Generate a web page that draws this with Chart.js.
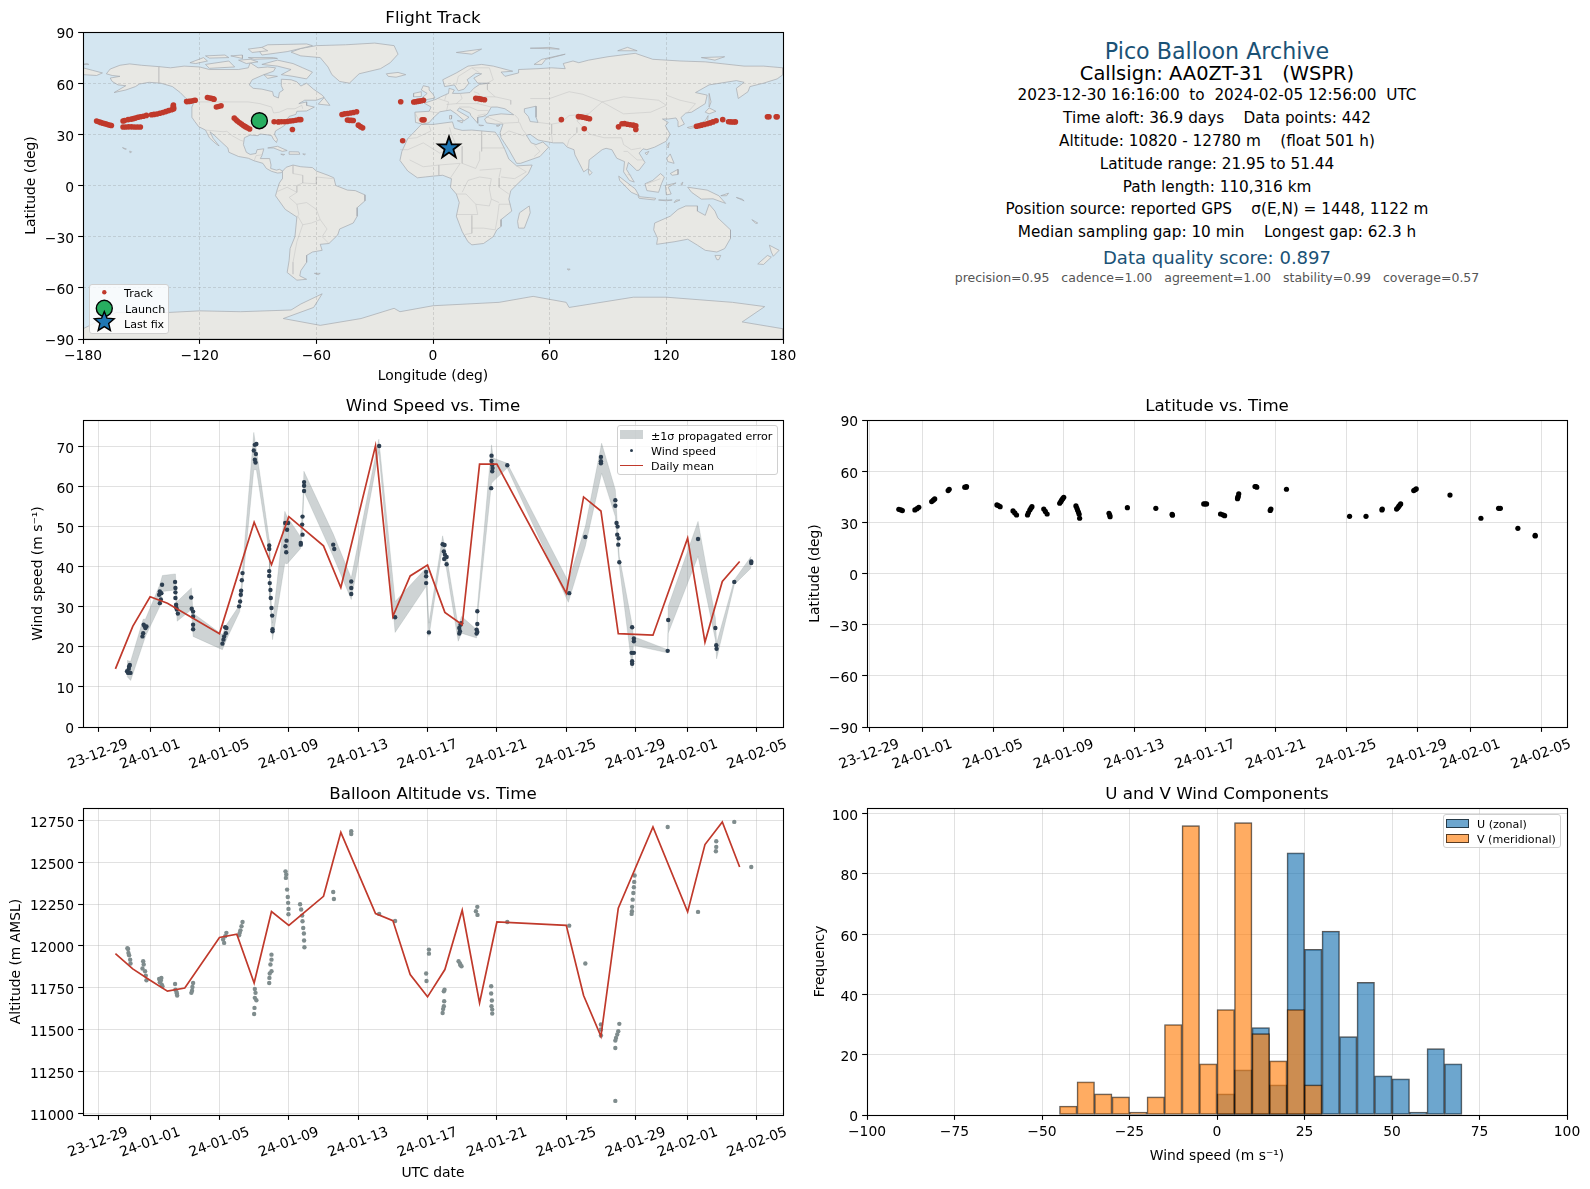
<!DOCTYPE html>
<html>
<head>
<meta charset="utf-8">
<title>Pico Balloon Archive</title>
<script src="https://cdn.jsdelivr.net/npm/chart.js@4"></script>
<style>
  html, body { margin: 0; padding: 0; background: #fff; }
  #page { position: relative; width: 1590px; height: 1189px; overflow: hidden; font-family: "DejaVu Sans", sans-serif; color: #000; }
  canvas { position: absolute; }
  .info { position: absolute; left: 867px; width: 700px; text-align: center; white-space: pre; transform: translateY(-50%); font-size: 15.28px; }
  .legend { position: absolute; background: rgba(255,255,255,0.8); border: 1px solid #d0d0d0; border-radius: 3px; box-sizing: border-box; }
  .lbl { position: absolute; font-size: 11.1px; color: #000; white-space: pre; transform: translateY(-50%); }
  .sw { position: absolute; box-sizing: border-box; }
</style>
</head>
<body>
<div id="page">
  <canvas id="mapChart" width="813" height="407" style="left:0;top:2px"></canvas>
  <canvas id="windChart" width="813" height="407" style="left:0;top:390px"></canvas>
  <canvas id="altChart" width="813" height="407" style="left:0;top:778px"></canvas>
  <canvas id="latChart" width="813" height="407" style="left:784px;top:390px"></canvas>
  <canvas id="histChart" width="813" height="407" style="left:784px;top:778px"></canvas>

  <div class="info" style="top:51px;font-size:22.2px;color:#1a5276">Pico Balloon Archive</div>
  <div class="info" style="top:73px;font-size:19.44px">Callsign: AA0ZT-31   (WSPR)</div>
  <div class="info" style="top:95px">2023-12-30 16:16:00  to  2024-02-05 12:56:00  UTC</div>
  <div class="info" style="top:118px">Time aloft: 36.9 days    Data points: 442</div>
  <div class="info" style="top:141px">Altitude: 10820 - 12780 m    (float 501 h)</div>
  <div class="info" style="top:164px">Latitude range: 21.95 to 51.44</div>
  <div class="info" style="top:187px">Path length: 110,316 km</div>
  <div class="info" style="top:209px">Position source: reported GPS    σ(E,N) = 1448, 1122 m</div>
  <div class="info" style="top:232px">Median sampling gap: 10 min    Longest gap: 62.3 h</div>
  <div class="info" style="top:257px;font-size:18.05px;color:#1a5276">Data quality score: 0.897</div>
  <div class="info" style="top:277px;font-size:12.5px;color:#555">precision=0.95   cadence=1.00   agreement=1.00   stability=0.99   coverage=0.57</div>

  <!-- map legend -->
  <div class="legend" style="left:89px;top:284px;width:80px;height:50px">
  </div>
  <svg style="position:absolute;left:89px;top:284px" width="40" height="50">
    <circle cx="15.3" cy="8.3" r="2.2" fill="#c0392b"/>
    <circle cx="15.3" cy="24.3" r="8" fill="#27ae60" stroke="#000" stroke-width="1.4"/>
    <polygon points="15.3,28.5 18,35.2 25.2,35.8 19.7,40.4 21.4,47.4 15.3,43.6 9.2,47.4 10.9,40.4 5.4,35.8 12.6,35.2" fill="#1f77b4" stroke="#000" stroke-width="1.4" transform="translate(0,-1)"/>
  </svg>
  <div class="lbl" style="left:124px;top:292.5px">Track</div>
  <div class="lbl" style="left:125px;top:308.5px">Launch</div>
  <div class="lbl" style="left:124px;top:323.5px">Last fix</div>

  <!-- wind legend -->
  <div class="legend" style="left:617px;top:425px;width:161px;height:50px"></div>
  <div class="sw" style="left:620px;top:430px;width:23px;height:9px;background:rgba(127,140,141,0.38)"></div>
  <div class="sw" style="left:629.5px;top:448.5px;width:3.6px;height:3.6px;border-radius:50%;background:#2c3e50"></div>
  <div class="sw" style="left:620px;top:464.5px;width:23px;height:1.8px;background:#c0392b"></div>
  <div class="lbl" style="left:651px;top:435.5px">±1σ propagated error</div>
  <div class="lbl" style="left:651px;top:450.5px">Wind speed</div>
  <div class="lbl" style="left:651px;top:466px">Daily mean</div>

  <!-- histogram legend -->
  <div class="legend" style="left:1443px;top:814px;width:118px;height:34px"></div>
  <div class="sw" style="left:1446px;top:819px;width:23px;height:8.5px;background:rgba(31,119,180,0.65);border:1.1px solid rgba(0,0,0,0.65)"></div>
  <div class="sw" style="left:1446px;top:834px;width:23px;height:8.5px;background:rgba(255,127,14,0.65);border:1.1px solid rgba(0,0,0,0.65)"></div>
  <div class="lbl" style="left:1477px;top:824px">U (zonal)</div>
  <div class="lbl" style="left:1477px;top:839px">V (meridional)</div>
</div>

<script>
// ================== DATA ==================
const dateTickDays = [-3, 0, 4, 8, 12, 16, 20, 24, 28, 31, 35];   // days since 2024-01-01
const dateTickLabels = ["23-12-29","24-01-01","24-01-05","24-01-09","24-01-13","24-01-17","24-01-21","24-01-25","24-01-29","24-02-01","24-02-05"];

const mapLonTicks = [-180, -120, -60, 0, 60, 120, 180];
const latTicks = [-90, -60, -30, 0, 30, 60, 90];
const windTicks = [0, 10, 20, 30, 40, 50, 60, 70];
const altTicks = [11000, 11250, 11500, 11750, 12000, 12250, 12500, 12750];
const histXTicks = [-100, -75, -50, -25, 0, 25, 50, 75, 100];
const histYTicks = [0, 20, 40, 60, 80, 100];

// flight track
const trackLon = [-173,-172,-171,-170,-169,-168,-167,-166,-165.4,
  -159.4,-158.6,-156.8,-155.2,-154,-153,-151.8,-150.5,-149,-147.4,
  -159.4,-158,-156.5,-155,-153.5,-152,-150.5,
  -144.8,-143.5,-142,-140.5,-139,-137.5,-136,-134.5,-133.4,-133.4,-133.6,-133.5,
  -126.7,-125.5,-124.3,-123,-122.3, -116,-115,-114,-113,-112.6, -111.4,-110.3,-109,
  -102.2,-101.3,-100.5,-99.5,-98.5,-97.5,-96.5,-95.5,-94.3,
  -81.7,-79.5,-78,-76.5,-75,-73.5,-72,-70.5,-69,-68, -72.3,
  -46.8,-45.5,-44,-42.5,-41,-39.3, -44,-43,-42,-41, -38.4,-37.3,-36.2,
  -16.6, -9.9,-9,-8,-7,-6,-4.9, -5.6,-4.6, -15.6,
  22,23,24,25,26.5, 66, 74.8,76,77.2,78.5,79.5,80.5, 77.8,
  95.4,97.2,98.5,100,101.5,103,104.3,104.3,
  135.5,136.8,138,139.5,141,142.5,144,145.6, 149, 152,153.2,154.5,155.5, 172,172.8,176.5,177];
const trackLat = [37.8,37.4,37,36.6,36.3,36,35.6,35.3,35.2,
  37.8,38.1,38.6,38.9,39.2,39.6,40,40.3,40.6,41.1,
  34.3,34.3,34.4,34.4,34.3,34.3,34.3,
  41.5,41.7,41.9,42.4,42.8,43.3,43.9,44.4,44.8,45.6,46.4,47.2,
  49.2,49.3,49.5,49.8,50, 51.6,51.3,51.1,50.8,50.6, 46,46.3,46.8,
  39.5,38.5,37.7,36.8,36,35.2,34.5,33.9,33.1,
  37.4,37.3,37.4,37.4,37.5,37.8,38,38.3,38.6,38.6, 32.8,
  41.6,42,42.2,42.5,42.8,43.2, 38.4,38.2,38.2,38.1, 35.4,34.5,33.8,
  49.1, 49,49.1,49.3,49.5,49.7,50, 38.5,38.5, 26.2,
  51.1,51,50.8,50.5,50.3, 38.6, 40.4,40.3,40,39.7,39.4,39.1, 33.3,
  34.4,36.2,36.3,35.9,35.6,35.4,35,32.9,
  34.7,35,35.4,35.8,36.2,36.7,37.3,38, 38.6, 37.4,37.3,37.2,37.3, 40.3,40.3,40.3,40.3];
const launchPoint = [-89.3, 38];
const lastFixPoint = [8.2, 22];

// coastlines, rough outlines [lon, lat]
const landPolys = [
  // North America
  [[-168,65.5],[-166,68.3],[-161,70.5],[-156,71.3],[-150,70.5],[-141,69.7],[-135,69],[-128,70],[-120,69.5],[-115,68],[-108,68],[-100,68],[-95,69],[-94,72],[-90,69],[-85,69.5],[-81,69],[-82,67],[-87,65],[-93,62],[-94.5,59],[-92.5,57],[-88,56.5],[-82.5,55],[-82,52.5],[-79.5,51.3],[-79,54.5],[-77,56],[-78,58.5],[-78,62.3],[-73,62],[-70,60.8],[-68,58.3],[-65,60],[-61.5,56.5],[-57,53],[-56,51.7],[-60,50],[-66,50],[-69,48],[-65,49],[-65,47],[-61,46],[-65,43.7],[-70,43.5],[-70.5,41.7],[-74,40.5],[-75.5,38],[-76,35.5],[-78,34],[-81,32],[-81.5,30],[-80,27],[-80.5,25.2],[-82,27],[-83,29.2],[-85,29.7],[-89,30.2],[-90,29.2],[-94,29.6],[-97,28],[-97.5,24],[-96,19.5],[-94,18.2],[-91,18.8],[-90.5,21],[-87,21.5],[-88,17.5],[-88.8,15.8],[-84,15.8],[-83.3,12],[-83.5,10],[-80.5,9],[-79,9.5],[-77.3,8.5],[-78,7.5],[-80,7.3],[-83,8.3],[-85.7,10],[-87.5,13],[-92,14.5],[-95,16],[-100,17],[-105,19.5],[-105.5,22],[-109,25.7],[-112.5,29.5],[-114.7,31.5],[-113,27.5],[-110,23.2],[-112,24.8],[-115,28],[-117,32.5],[-120.5,34.5],[-122.5,37.5],[-124,40],[-124,46],[-123,48.5],[-127,51],[-130,54.5],[-134,58],[-140,60],[-146,60.5],[-151,59.5],[-153,58],[-158,56],[-164,54.5],[-158,58.5],[-162,59],[-165,61],[-166,63],[-161,64],[-165,64.5]],
  // Greenland
  [[-73,78.2],[-68,80.3],[-60,82],[-45,82.5],[-30,83.5],[-20,82],[-18,77],[-22,72],[-27,68.5],[-38,65.5],[-43,60],[-48,61],[-52,65],[-54,69.5],[-58,75],[-68,76]],
  // Arctic Canada
  [[-80,73.5],[-72,71.5],[-67,69],[-62,66.5],[-65,62.5],[-72,64],[-78,65],[-73,68],[-80,70],[-88,71]],
  [[-117,71],[-105,73],[-102,69.5],[-115,68.7]],
  [[-90,80],[-85,82.5],[-65,83],[-62,82],[-75,78.5],[-88,76.5]],
  [[-125,72],[-118,75],[-116,73],[-122,71.5]],
  [[-95,75],[-82,75],[-80,74.5],[-92,74]],
  [[-117,76],[-107,76.5],[-105,75],[-115,74.7]],
  [[-100,73.5],[-94,74],[-90,72.5],[-96,71.5]],
  [[-87,65],[-80,64],[-85,62.8]],
  [[-95,80],[-88,81],[-85,79],[-93,78]],
  [[-104,76],[-98,76.5],[-98,74.5]],
  [[-128,50.5],[-125,50],[-123.5,48.5]],
  [[-59,47.7],[-56,51.5],[-53,47]],
  // Iceland, Caribbean, Hawaii, Atlantic
  [[-24,65.5],[-18,66.3],[-14,65],[-19,63.5],[-23,64]],
  [[-85,22],[-80,23],[-75,20.5],[-77.5,20],[-82,22]],
  [[-74,19.8],[-69,19.7],[-68.5,18.3],[-74,18.3]],
  [[-67,18.5],[-65.6,18.4],[-66,18]],
  [[-78.3,18.4],[-76.3,18.2],[-77,17.8]],
  [[-156,20.2],[-155,19.8],[-155.7,19]],
  [[-159.7,22.2],[-157.7,21.4],[-158.3,21.2]],
  [[-61,-51.5],[-58,-51.5],[-59,-52.3]],
  // South America
  [[-77.3,8.5],[-75.5,10.7],[-72,12],[-68,11],[-62,10.5],[-60,8.5],[-54,6],[-51,4.5],[-50,0],[-44,-2.7],[-40,-3],[-35,-5.5],[-35,-9],[-39,-13],[-39,-18],[-41,-22],[-48,-25.5],[-49,-29],[-53.5,-34],[-58,-34.5],[-57,-38],[-62,-39],[-65,-41],[-65,-45],[-68,-50],[-68.5,-53],[-65,-55],[-70,-55.5],[-75,-51],[-74,-44],[-73.5,-37],[-71,-30],[-70,-18.5],[-76,-14],[-81,-6],[-80,-2],[-79,1.5],[-77.5,4],[-77.5,7]],
  // Africa
  [[-6,35.8],[0,35.8],[10,37.3],[11,33.5],[15,32.3],[20,32.5],[25,32],[32,31.3],[34,28],[37,21],[39,15.5],[43,11.5],[51,12],[49,7],[44,1.5],[40,-3],[39,-8],[40.5,-15],[35,-20],[35,-24],[32.8,-26],[31,-30],[26,-34],[20,-34.8],[18,-33],[15,-27],[12,-18],[13.5,-10],[12,-5],[9,-1],[9.5,4],[5,6],[0,5.5],[-4,5],[-8,4.5],[-13,8.5],[-17,14.7],[-16,20],[-13,27.5],[-10,31]],
  // Eurasia
  [[-9,37],[-9.3,43],[-2,43.5],[-1,46],[-4.5,48.3],[1.5,50.5],[4,52],[8,54],[8.3,57],[11,56],[10,54],[14,54],[19,54.5],[21,57],[24,59.3],[29,60],[23,60],[21,63],[25,65.5],[22,65.8],[17.5,62],[18.5,60],[16,56.5],[13,55.5],[11,59],[6,58],[5,62],[12,66],[18,70],[25,71],[31,70],[41,67],[35,66.5],[37,64],[44,66],[44,68],[54,68.5],[61,69],[68,68.5],[67,71.5],[72,73],[75,72],[80,73.5],[90,75.5],[104,77.5],[113,74],[127,73],[140,72.5],[160,70],[170,70],[180,69],[180,65],[177,62.5],[170,60],[163,58],[162,55],[157,51],[156,57],[160,60.5],[156,61.5],[142,59],[135,54.5],[141,53],[140,48],[133,43],[130,42.5],[127.5,39.8],[129.3,36],[126.5,34.5],[126,37.5],[125,39.6],[121,39],[118,39],[121,37],[119.5,35],[122,30],[120,26],[114,22.5],[110,21],[108,21.5],[106,19],[109,13.5],[106,9],[104.8,8.8],[100.5,13.5],[99.5,9.5],[103.5,2],[101,3],[98,8],[98.5,14],[94.5,16],[92,21],[89,21.8],[87,21],[80.3,15],[80,10],[77.5,8],[73,18],[72.5,21],[69,22.5],[67,25],[62,25],[57,26],[54,26.7],[50,30],[48,29.5],[50.5,25],[53,24],[56.5,25.5],[59.5,22.5],[55,17],[45,13],[43,13],[39,21],[35,28],[34.5,31],[36,36],[32,36],[27.5,36.7],[26.5,39],[29,41],[35,42],[41.5,41.5],[37,45],[33,46],[30,46],[28,42],[26,40.5],[23,40],[23,36.5],[19.5,41],[19,42.5],[13.5,45.5],[12.5,44],[18.5,40],[16,38],[12,42],[9,44.3],[3.5,43.2],[0,39.5],[-2,36.8],[-5.5,36]],
  // Chukotka across the date line
  [[-180,69],[-175,67.5],[-170,66],[-173,64.5],[-180,65]],
  [[-180,71],[-178,71.5],[-177,71]],
  // European and Asian islands
  [[-5,50],[1,51.3],[0,53.5],[-2,56],[-2,57.7],[-5,58.5],[-6,56],[-3,54],[-5,52]],
  [[-10,52],[-6,52.2],[-6,55],[-10,54]],
  [[12,78],[25,80],[20,77]],
  [[52,71],[56,74],[68,77],[58,74],[56,71]],
  [[50,80.5],[60,81],[65,80]],
  [[95,79],[105,79],[100,81]],
  [[138,75],[150,75.5],[145,73.5]],
  [[12.5,38],[15.5,38],[15,36.7]],
  [[8.5,41],[9.7,41],[9.5,39],[8.5,39]],
  [[32.5,35],[34.5,35.5],[33.5,34.6]],
  [[23.5,35.5],[26,35.2],[24.5,35]],
  [[49.5,-12],[50,-16],[47,-25],[44,-25],[43.5,-21],[44.5,-16]],
  [[69,-49],[70.5,-49],[70,-49.7]],
  [[80,9.7],[81.8,7.5],[80.5,6],[79.8,8]],
  [[130.8,34],[136,35.5],[140,38],[141.5,41],[141,36],[137,34.5],[132,33.5]],
  [[140,43],[142,45.5],[145.5,43.5],[142,42]],
  [[142,54],[143,49],[142,46],[142,50]],
  [[120.2,23],[121.5,25.2],[121,22]],
  [[109,19],[111,20],[110,18]],
  [[120.3,16],[122,18.5],[124,13],[120.7,14]],
  [[122,7],[126,9.5],[126,6.5],[123,6]],
  [[95.5,5.5],[104,-2],[106,-6],[102,-4],[96,3]],
  [[105.5,-6.5],[114.5,-7.5],[114,-8.5],[106,-7.5]],
  [[116,-8.5],[123,-8.5],[120,-9]],
  [[124,-10],[127,-8.5],[125,-8.5]],
  [[109,1],[113,3],[117,7],[119,5],[117.5,1],[116,-4],[110,-3]],
  [[119.5,0],[125,1.5],[121,-1],[122.5,-5],[120,-5.5]],
  [[127.5,1],[128.5,2],[128,0]],
  [[131,-1],[141,-2.7],[147,-6],[150.5,-10.5],[144,-7.8],[138,-8],[133,-4]],
  [[148,-6],[152,-4.5],[151,-6]],
  [[156,-7],[160,-9],[159,-8]],
  [[164,-20],[167,-22],[166,-22.3]],
  // Australia and New Zealand
  [[114,-22],[122,-18],[126,-14],[130,-12],[136,-12],[136,-15],[140,-17.5],[142,-11],[145,-15],[146.5,-19],[153,-26],[153,-31],[150,-37],[146,-39],[140,-38],[136,-35],[131,-31.5],[124,-33],[115,-34.5],[115.5,-31],[113.5,-26]],
  [[145,-41],[148,-41],[147,-43.5],[146,-43.5]],
  [[173,-35],[178,-38],[175,-41.5],[174,-39]],
  [[172,-41],[174,-42],[170,-46.3],[167,-46]],
  // Antarctica
  [[-180,-90],[-180,-84],[-163,-74.5],[-137,-74.5],[-120,-73.5],[-99,-74],[-73,-73],[-68,-69.5],[-57,-63.5],[-61.4,-71.5],[-77,-78],[-58,-82],[-37,-78],[-20,-72],[-17,-74],[0,-70.5],[34,-68.5],[51.5,-65],[68.5,-68.5],[70,-71.5],[103,-65.5],[120,-65.5],[154,-68.5],[170.6,-71],[159,-80],[180,-84],[180,-90]]
];
// inland water, rough outlines
const waterPolys = [
  [[47,45],[53,46.5],[53,40],[54,37],[50,37.5],[49,40.5],[47,43]]
];
// country borders, rough polylines
const borderLines = [
  [[-123,49],[-95,49],[-89,48],[-83,46],[-82,42.5],[-79,43],[-75,45],[-71,45],[-67.5,47],[-67,45]],
  [[-141,69.7],[-141,60]],
  [[-117,32.5],[-108,31.5],[-106,31.8],[-103,29],[-99,26.5],[-97.5,26]],
  [[-92,14.5],[-91,17.5],[-89,17.8],[-88,18]],
  [[-72,12],[-72,7],[-67,6],[-67,1.5]],
  [[-51.5,4],[-60,5],[-60,1],[-67,1.5],[-70,0],[-70,-4],[-74,-7],[-70,-11],[-65,-10],[-60,-14],[-58,-20],[-54.5,-25.5],[-57,-30],[-53.5,-34]],
  [[-69.5,-18],[-67,-23],[-70,-33],[-72,-45],[-72,-52]],
  [[-70,-11],[-69,-17],[-70,-18.5]],
  [[-67,-23],[-62.5,-22],[-58,-20]],
  [[-80,-3.5],[-75,-1],[-70,-4]],
  [[-2,35],[-1,32],[-8.5,28],[-13,27.5]],
  [[8.5,34],[9.5,30],[12,23.5]],
  [[-5,25],[3.5,19],[12,23.5]],
  [[25,32],[25,20]],
  [[25,22],[37,22]],
  [[15,23],[15,13],[22,10],[24,15],[24,20]],
  [[-17,21],[-13,21],[-5,25]],
  [[-12,15],[-5,11],[3,12],[14,13]],
  [[3,12],[3,6]],
  [[14,13],[9,4.5]],
  [[24,9],[35,10],[34,5]],
  [[43,11.5],[48,8],[42,4],[35,5]],
  [[12,-5],[17,-5],[22,-11],[29,-12],[30,-8],[29,-2],[30,4],[24,5],[18,3],[15,-4]],
  [[34,4.5],[34,-1],[39,-5]],
  [[12,-17],[23,-17],[22,-11]],
  [[20,-17.5],[20,-28],[16.5,-28.7]],
  [[20,-25],[26,-25],[32,-26]],
  [[40,-11],[34,-11],[33,-20],[32,-26]],
  [[30,-8],[34,-10]],
  [[28,60],[28,56],[32,52],[40,50],[40,47.5]],
  [[50,51],[60,51],[70,55],[77,53.5],[87,49],[80,42],[70,41],[66,37],[61,36]],
  [[87,49],[98,42],[112,43],[120,47],[116,50],[98,52],[87,49]],
  [[120,53],[127,50],[135,48],[131,43]],
  [[80,42],[74,38],[78,33],[81,30],[88,28],[97,28],[98,24],[102,21],[107,22]],
  [[74,34],[74,31],[70,27],[69,23]],
  [[54,37],[61,36],[61,30],[61.5,25]],
  [[44.5,37],[46,33],[48,30]],
  [[35,29],[39,32],[47,29]],
  [[52,24],[55,20],[52,17]],
  [[26,41],[36,36.5],[44,37],[44,39],[42,41.5]],
  [[-1.8,43.4],[3,42.5]],
  [[-9,42],[-7,37.5]],
  [[2.5,51],[8,49],[7,44]],
  [[7,54],[6,50]],
  [[14,54],[15,51],[12,48],[17,48],[23,48],[24,52],[23.5,54],[21,55]],
  [[12,48],[7,47.5]],
  [[13.5,46],[19,46],[23,44],[28.5,44]],
  [[23,41],[27,42]],
  [[24,52],[32,52]],
  [[23,48],[30,46]],
  [[98,20],[100,20],[105,15],[108,15]],
  [[100,6.5],[102,6]],
  [[12,59],[13,64],[20,69],[29,69],[31,62],[28,60]],
  [[20,69],[24,66]],
  [[110,1],[117,4]]
];

// wind speed vs time
const windDays = [-1.33,-1.21,-1.13,-1.23,-1.27,-1.17, -0.44,-0.40,-0.31,-0.21,-0.37,-0.27,
  0.56,0.62,0.52,0.65,0.56,0.69, 1.44,1.46,1.46,1.46,1.5,1.54,1.6,1.5,
  2.37,2.4,2.48,2.48,2.48,2.48, 4.17,4.23,4.27,4.37,4.33,4.4, 5.13,5.19,5.23,5.25,5.29,5.33,
  6.04,6.13,5.98,6.1,6.04,6.08, 6.87,6.87,6.87,6.87,6.9,6.94,6.96,7,7.04,7.06,7.06,
  7.79,7.96,7.9,7.87,7.81,7.85, 8.69,8.79,8.77,8.79,8.69, 8.88,8.88,8.88,
  10.56,10.62, 11.6,11.6,11.6, 13.21, 14.13, 15.92,15.92,15.92, 16.08,
  16.87,16.98,16.94,17,16.96,17.1,17.1, 17.83,17.87,17.83,17.9,17.94,
  18.83,18.87,18.87,18.83,18.87, 19.69,19.69,19.73,19.73,19.67,19.75,
  20.6, 24.17, 25.1, 26,26,26, 26.83,26.83,26.9,26.96,26.94,27.02,27,27.06,
  27.8,27.9,27.9,27.77,27.9,27.8,27.8, 29.85,29.88, 31.6, 32.6,32.65,32.67, 33.69, 34.67,34.67];
const windSpeed = [13.9,15.1,13.5,14.5,13.5,15.5, 22.6,23.4,25.1,25.1,25.5,24.7,
  30.9,31.8,33,33.4,33.8,35.5, 36.2,34.7,33.6,32.2,30.5,29.3,28.3,29.9,
  32.3,29.5,28.8,27.6,25.5,24.4, 20.8,21.8,22.6,23.4,24.9,24.7, 30.1,31.3,33,34,36.6,38.4,
  70.4,70.6,69,68.1,66.7,66, 45.3,44.4,38.9,37.7,35.9,34.2,32.2,29.7,27.8,23.9,24.4,
  50.9,50.9,49.2,46.5,45.1,43.6, 45.9,52.5,50.5,48,45.5, 61.1,60.2,58.9,
  45.5,44.4, 36.3,34.7,33.2, 70.1, 27.4, 38.7,37.6,35.9, 23.6,
  45.6,45.4,43.8,43,41.9,42.4,40.6, 24.7,23.9,23.3,25.5,25.9,
  24.3,25.7,28.9,23.3,23.7, 67.7,66.4,65.4,63.8,59.6,64.6,
  65.3, 33.4, 47.4, 67.4,66.3,65.8, 56.6,55.2,50.9,50,48,47.1,45.5,41.1,
  24.9,22.1,21.4,18.5,18.5,16.4,15.8, 19,26.7, 46.9, 24.7,20.4,19.5, 36.2, 41.3,40.9];

const bandDays = [-1.33,-1.12,-0.4,-0.27,0.56,0.71,1.46,1.56,2.38,2.48,4.17,4.4,5.17,5.37,5.98,6.13,6.87,6.9,7.06,7.77,7.9,8.67,8.79,8.87,10.56,11.6,13.19,14.13,15.92,16.08,16.87,17.1,17.77,17.96,18.83,18.88,19.69,19.79,20.6,24.12,25.1,26.04,26.83,27.06,27.8,27.87,29.85,29.88,31.6,32.6,32.67,33.69,34.67];
const bandUpper = [16.6,16.4,26.9,26.9,35.5,37.8,38.2,31.3,34.7,28.4,23,25.5,30.5,41.7,73.5,69.2,46.7,37.6,25.9,53.8,52.5,47.5,54.2,63.8,48.2,37.2,71.8,31.3,39.7,25.9,47.7,42.6,25.1,27.6,24.3,30.1,70.4,67.1,65.8,36.3,50,70.8,59.2,42.6,25.5,22.6,19.3,30.1,51.3,27.2,20.9,36.7,42.6];
const bandLower = [12.6,11.6,20.9,22.6,30.1,33.8,34.2,26.4,29.3,22.6,19.3,21.8,28.8,37.2,64.2,64.2,43.4,32.6,21.8,40.9,40.7,44.5,49.2,58.8,42.6,31.8,68.7,23.6,35.1,22.6,45,39.2,21.4,23.4,22.2,27.6,60.8,61.3,64.6,31.1,45.1,63.3,52.5,40.1,14.7,20.4,18.5,23.4,42.6,21.8,17,35.5,39.7];

const meanWindDays = [-2,-1,0,1,4,6,7,8,10,11,13,14,15,16,17,18,19,20,24,25,26,27,29,31,32,33,34];
const meanWind = [14.5,25.1,32.5,30.9,23.3,51.1,40.5,52.5,45.2,34.8,70.2,27.6,37.7,40.4,28.6,25.5,65.6,65.6,33.4,57.4,53.9,23.3,22.9,47.1,21.2,36.3,41.3];

// altitude vs time
const altDays = [-1.27,-1.25,-1.21,-1.15,-1.13,-1.31, -0.4,-0.37,-0.44,-0.29,-0.25,-0.21,
  0.52,0.65,0.56,0.67,0.62,0.71, 1.44,1.46,1.52,1.56,1.54, 2.48,2.44,2.42,2.38,
  4.4,4.33,4.21,4.27, 5.33,5.27,5.21,5.13,5.17, 6.04,6.08,6.04,6.13,6.02,6,
  7,7,6.94,7,6.9,6.88,6.87, 7.81,7.85,7.83,7.9,7.94,7.96,7.98,7.98,
  8.65,8.71,8.77,8.79,8.83,8.87,8.88,8.9, 10.56,10.6, 11.6,11.6, 13.21, 14.13,
  15.92,15.94,16.08,16.08, 16.98,16.94,16.96,16.94,16.9,16.87, 17.79,17.87,17.96,17.9,
  18.87,18.79,18.88, 19.67,19.67,19.71,19.69,19.73,19.73, 20.6, 24.17, 25.1, 26,26,26,
  27.06,27,26.94,26.87,26.83,26.83,26.83, 27.94,27.92,27.9,27.87,27.83,27.8,27.79,27.77,
  29.85, 31.6, 32.65,32.65,32.63, 33.69, 34.67];
const altMeters = [11982,11958,11944,11918,11895,11986, 11909,11889,11865,11849,11823,11795,
  11803,11809,11783,11769,11793,11759, 11773,11739,11726,11704,11716, 11779,11755,11733,11720,
  12078,12058,12038,12018, 12143,12117,12093,12064,12078, 11743,11720,11690,11676,11630,11594,
  11948,11918,11889,11849,11835,11809,11779, 12445,12426,12406,12336,12292,12257,12221,12189,
  12249,12217,12181,12147,12107,12074,12032,11992, 12322,12280, 12684,12668, 12191, 12149,
  11835,11791,11978,11954, 11739,11729,11670,11640,11624,11600, 11909,11895,11879,11885,
  12233,12207,12185, 11759,11716,11674,11640,11620,11596, 12143, 12121, 11895, 11531,11501,11465,
  11535,11491,11471,11451,11435,11391,11075, 12420,12382,12350,12316,12276,12233,12207,12191,
  12710, 12203, 12625,12591,12565, 12740, 12471];

const meanAltDays = [-2,-1,0,1,2,4,5,6,7,8,10,11,13,14,15,16,17,18,19,20,24,25,26,27,29,31,32,33,34];
const meanAlt = [11954,11863,11795,11730,11749,12050,12070,11779,12205,12123,12296,12678,12193,12151,11829,11696,11859,12213,11660,12143,12123,11704,11461,12225,12710,12203,12605,12740,12471];

// latitude vs time
const latDays = [-1.33,-1.21,-1.13, -0.42,-0.3,-0.2, 0.53,0.62,0.7, 1.46,1.52, 2.4,2.48,2.5,
  4.22,4.3,4.4, 5.13,5.23,5.33, 5.95,6,6.08,6.14,6.2, 6.87,6.96,7.06, 7.77,7.83,7.88,7.94,8,
  8.69,8.74,8.78,8.83,8.87,8.9, 10.56,10.6,10.62, 11.6, 13.21, 14.13,14.15, 15.92,16,16.08,
  16.87,17,17.1, 17.83,17.85,17.87,17.9, 18.82,18.87,18.92,
  19.68,19.72, 20.6, 24.17, 25.1, 26,26.02, 26.83,26.9,26.95,27,27.06, 27.8,27.87,27.94, 29.85, 31.6, 32.6,32.7, 33.69, 34.67,34.67];
const latValues = [37.6,37.3,36.9, 37.3,38,38.8, 42.2,43,43.7, 48.6,49.4, 50.6,50.6,51,
  40.2,39.8,39.2, 36.7,35.5,34.3, 34.3,35.6,37.2,38.2,39.2, 37.8,36.4,34.9, 41.2,42.1,43,43.9,44.7,
  39.6,38.4,37.2,36,34.8,32.4, 35.3,34.3,33.3, 38.6, 38.2, 34.7,34.2, 40.8,40.8,40.8,
  34.9,34.4,33.9, 43.9,44.6,45.3,46.7, 51,51,50.6,
  37,37.8, 49.4, 33.5, 33.5, 37.3,37.8, 37.8,38.5,39.3,40,40.8, 48.6,49.1,49.6, 46, 32.4, 38.2,38.2, 26.5, 22,22.3];

// U and V histogram, 5 m/s bins
const histBins = [-42.5,-37.5,-32.5,-27.5,-22.5,-17.5,-12.5,-7.5,-2.5,2.5,7.5,12.5,17.5,22.5,27.5,32.5,37.5,42.5,47.5,52.5,57.5,62.5,67.5];
const uCounts = [0,0,0,0,0,0,0,0,0,7,15,29,10,87,55,61,26,44,13,12,1,22,17];
const vCounts = [3,11,7,6,1,6,30,96,17,35,97,27,18,35,10,0,0,0,0,0,0,0,0];

// ================== HELPERS ==================
const FONT = '"DejaVu Sans", sans-serif';
const GRID = "rgba(176,176,176,0.38)";
Chart.defaults.font.family = FONT;
Chart.defaults.color = "#000";
Chart.defaults.animation = false;

const toXY = (xs, ys) => xs.map((x, i) => ({ x, y: ys[i] }));
const minus = v => String(v).replace("-", "\u2212");

// frame and optional background for the plot area
const framePlugin = {
  id: "frame",
  beforeDraw(chart, args, opts) {
    if (!opts.background) return;
    const a = chart.chartArea, c = chart.ctx;
    c.save();
    c.fillStyle = opts.background;
    c.fillRect(a.left, a.top, a.width, a.height);
    c.restore();
  },
  afterDraw(chart) {
    const a = chart.chartArea, c = chart.ctx;
    c.save();
    c.strokeStyle = "#000";
    c.lineWidth = 1.1;
    c.strokeRect(a.left + 0.5, a.top + 0.5, a.width, a.height);
    c.restore();
  }
};
Chart.register(framePlugin);

function xAxis(min, max, ticks, height, title, rotated) {
  return {
    type: "linear", min, max,
    title: { display: !!title, text: title, font: { size: 13.89 }, padding: 0 },
    grid: { color: GRID, lineWidth: 1, tickColor: "#000", tickWidth: 1.1, tickLength: 4.86 },
    border: { display: false },
    ticks: {
      autoSkip: false, font: { size: 13.89 }, padding: rotated ? 15 : 4,
      minRotation: rotated ? 20 : 0, maxRotation: rotated ? 20 : 0,
      callback: rotated ? v => dateTickLabels[dateTickDays.indexOf(v)] : minus
    },
    afterBuildTicks(s) { s.ticks = ticks.map(value => ({ value })); },
    afterFit(s) {
      s.height = height;
      // matplotlib centres rotated labels on the tick
      if (rotated) s._getXAxisLabelAlignment = () => "center";
    }
  };
}

function yAxis(min, max, ticks, title, titleGap) {
  return {
    min, max,
    title: { display: true, text: title, font: { size: 13.89 }, padding: { top: titleGap, bottom: 0 } },
    grid: { color: GRID, lineWidth: 1, tickColor: "#000", tickWidth: 1.1, tickLength: 4.86 },
    border: { display: false },
    ticks: { font: { size: 13.89 }, padding: 4, callback: minus },
    afterBuildTicks(s) { s.ticks = ticks.map(value => ({ value })); },
    afterFit(s) {
      s.width = 83;
      // labels sit a little high with a middle baseline
      const compute = s._computeLabelItems;
      s._computeLabelItems = function (area) {
        const items = compute.call(this, area);
        items.forEach(it => { it.options.translation[1] += 1.4; });
        return items;
      };
    }
  };
}

function plotOptions(title, xScale, yScale, xHeight, background) {
  return {
    responsive: false,
    devicePixelRatio: 1,
    layout: { padding: { top: 7, right: 30, bottom: 70 - xHeight, left: 0 } },
    plugins: {
      legend: { display: false },
      tooltip: { enabled: false },
      frame: { background },
      title: { display: true, text: title, fullSize: false, font: { size: 16.67, weight: "normal" }, padding: { top: 0, bottom: 3 }, color: "#000" }
    },
    scales: { x: xScale, y: yScale }
  };
}

// later entries are drawn on top
function stacked(datasets) {
  datasets.forEach((d, i) => { d.order = datasets.length - i; });
  return datasets;
}

function starImage(color) {
  const cv = document.createElement("canvas");
  cv.width = cv.height = 28;
  const c = cv.getContext("2d");
  c.beginPath();
  for (let i = 0; i < 10; i++) {
    const r = i % 2 ? 4.6 : 11.5, a = -Math.PI / 2 + i * Math.PI / 5;
    c.lineTo(14 + r * Math.cos(a), 14 + r * Math.sin(a));
  }
  c.closePath();
  c.fillStyle = color;
  c.fill();
  c.lineWidth = 1.8;
  c.strokeStyle = "#000";
  c.stroke();
  return cv;
}

function ring(poly, fill, stroke) {
  const pts = poly.concat([poly[0]]).map(([x, y]) => ({ x, y }));
  return { data: pts, showLine: true, fill: "shape", backgroundColor: fill, borderColor: stroke, borderWidth: 1, pointRadius: 0 };
}

// ================== CHARTS ==================
const OCEAN = "#d4e6f1", LAND = "#e8e8e4", COAST = "rgba(165,170,175,0.7)";

const mapX = xAxis(-180, 180, mapLonTicks, 45.3, "Longitude (deg)", false);
const mapY = yAxis(-90, 90, latTicks, "Latitude (deg)", 22.7);
mapX.grid.z = 1; mapY.grid.z = 1;
mapX.grid.color = mapY.grid.color = "rgba(128,128,128,0.35)";
mapX.grid.lineWidth = mapY.grid.lineWidth = 0.7;
mapX.border.dash = mapY.border.dash = [3, 2];
new Chart(document.getElementById("mapChart"), {
  type: "scatter",
  data: { datasets: stacked([
    ...landPolys.map(p => ring(p, LAND, COAST)),
    ...waterPolys.map(p => ring(p, OCEAN, COAST)),
    ...borderLines.map(l => ({ data: l.map(([x, y]) => ({ x, y })), showLine: true, borderColor: "rgba(190,190,190,0.5)", borderWidth: 0.9, pointRadius: 0 })),
    { data: toXY(trackLon, trackLat), backgroundColor: "#c0392b", borderWidth: 0, pointRadius: 2.8 },
    { data: toXY([launchPoint[0]], [launchPoint[1]]), backgroundColor: "#27ae60", borderColor: "#000", borderWidth: 1.4, pointRadius: 8 },
    { data: toXY([lastFixPoint[0]], [lastFixPoint[1]]), pointStyle: starImage("#1f77b4"), pointRadius: 14 }
  ]) },
  options: plotOptions("Flight Track", mapX, mapY, 45.3, OCEAN)
});

new Chart(document.getElementById("windChart"), {
  type: "scatter",
  data: { datasets: stacked([
    { data: toXY(bandDays, bandUpper), showLine: true, fill: "+1", backgroundColor: "rgba(127,140,141,0.38)", borderColor: "rgba(127,140,141,0.2)", borderWidth: 1, pointRadius: 0 },
    { data: toXY(bandDays, bandLower), showLine: true, borderColor: "rgba(127,140,141,0.2)", borderWidth: 1, pointRadius: 0 },
    { data: toXY(windDays, windSpeed), backgroundColor: "#2c3e50", borderWidth: 0, pointRadius: 2.2 },
    { data: toXY(meanWindDays, meanWind), showLine: true, borderColor: "#c0392b", borderWidth: 1.7, pointRadius: 0 }
  ]) },
  options: plotOptions("Wind Speed vs. Time", xAxis(-3.87, 36.5, dateTickDays, 70, "", true), yAxis(0, 76.6, windTicks, "Wind speed (m s\u207B\u00B9)", 30), 70)
});

new Chart(document.getElementById("latChart"), {
  type: "scatter",
  data: { datasets: [
    { data: toXY(latDays, latValues), backgroundColor: "#000", borderWidth: 0, pointRadius: 2.6 }
  ] },
  options: plotOptions("Latitude vs. Time", xAxis(-3.13, 36.47, dateTickDays, 70, "", true), yAxis(-90, 90, latTicks, "Latitude (deg)", 22.7), 70)
});

new Chart(document.getElementById("altChart"), {
  type: "scatter",
  data: { datasets: stacked([
    { data: toXY(altDays, altMeters), backgroundColor: "#7f8c8d", borderWidth: 0, pointRadius: 2.2 },
    { data: toXY(meanAltDays, meanAlt), showLine: true, borderColor: "#c0392b", borderWidth: 1.7, pointRadius: 0 }
  ]) },
  options: plotOptions("Balloon Altitude vs. Time", xAxis(-3.87, 36.5, dateTickDays, 66.3, "UTC date", true), yAxis(10991, 12823, altTicks, "Altitude (m AMSL)", 7.7), 66.3)
});

const histX = xAxis(-100, 100, histXTicks, 49.3, "Wind speed (m s\u207B\u00B9)", false);
histX.offset = false;
histX.grid.offset = false;
new Chart(document.getElementById("histChart"), {
  type: "bar",
  data: { datasets: [
    { data: toXY(histBins, uCounts).filter(p => p.y > 0), order: 2, backgroundColor: "rgba(31,119,180,0.65)", borderColor: "rgba(0,0,0,0.65)", borderWidth: 1.1, borderSkipped: false, barPercentage: 1, categoryPercentage: 1, grouped: false },
    { data: toXY(histBins, vCounts).filter(p => p.y > 0), order: 1, backgroundColor: "rgba(255,127,14,0.65)", borderColor: "rgba(0,0,0,0.65)", borderWidth: 1.1, borderSkipped: false, barPercentage: 1, categoryPercentage: 1, grouped: false }
  ] },
  options: plotOptions("U and V Wind Components", histX, yAxis(0, 101.85, histYTicks, "Frequency", 27.7), 49.3)
});
</script>
</body>
</html>
